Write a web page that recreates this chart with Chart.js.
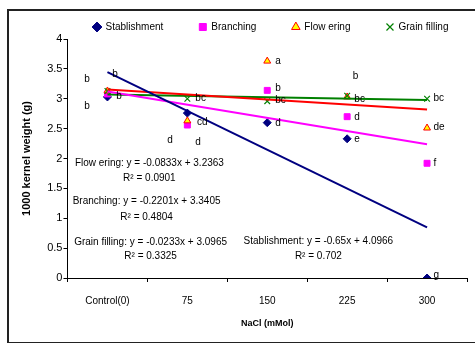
<!doctype html>
<html>

<head>
	<title>1000 kernel weight vs NaCl</title>
	<script src="https://cdn.jsdelivr.net/npm/chart.js@4/dist/chart.umd.min.js"></script>
	<style>
	body {
		margin: 0;
		background: #fff;
		overflow: hidden;
	}
	.frame {
		position: absolute;
		left: 7px;
		top: 9px;
		width: 480px;
		height: 331px;
		border: 2px solid #222;
	}
	.chart-container {
		position: absolute;
		left: 9px;
		top: 9px;
		width: 466px;
		height: 326px;
	}
	</style>
</head>

<body>
	<div class="frame"></div>
	<div class="chart-container">
		<canvas id="chart"></canvas>
	</div>
	<script>
		var categories = ['Control(0)', '75', '150', '225', '300'];
		var seriesNames = ['Stablishment', 'Branching', 'Flow ering', 'Grain filling'];

		var stablishment = [3.03, 2.76, 2.60, 2.33, 0];
		var branching = [3.08, 2.56, 3.14, 2.70, 1.92];
		var flowering = [3.13, 2.63, 3.63, 3.03, 2.51];
		var grainFilling = [3.13, 3.00, 2.96, 3.05, 3.00];

		// linear trend per stage: y = slope * x + intercept, x = 1..5
		var trendSlope = [-0.65, -0.2201, -0.0833, -0.0233];
		var trendIntercept = [4.0966, 3.3405, 3.2363, 3.0965];
		var trendR2 = ['0.702', '0.4804', '0.0901', '0.3325'];

		// where each equation is written (category position, y of equation line, y of R² line)
		var noteX = [2.64, 0.49, 0.525, 0.54];
		var noteY = [0.62, 1.29, 1.925, 0.59];
		var noteR2Y = [0.37, 1.02, 1.67, 0.37];

		// mean separation letters: [category position, y, letter]
		var letterMarks = [
			[0.06, 3.41, 'b'], [0.11, 3.04, 'b'], [-0.29, 3.33, 'b'], [-0.29, 2.88, 'b'],
			[1.10, 3.01, 'bc'], [1.12, 2.61, 'cd'], [0.75, 2.31, 'd'], [1.10, 2.28, 'd'],
			[2.10, 3.63, 'a'], [2.10, 3.18, 'b'], [2.10, 2.98, 'bc'], [2.10, 2.59, 'd'],
			[3.07, 3.38, 'b'], [3.09, 3.00, 'bc'], [3.09, 2.69, 'd'], [3.09, 2.33, 'e'],
			[4.08, 3.01, 'bc'], [4.08, 2.53, 'de'], [4.08, 1.92, 'f'], [4.08, 0.05, 'g']
		];

		var yMin = 0;
		var yMax = 4;
		var yStep = 0.5;

		var FONT = "'Liberation Sans', Arial, sans-serif";
		Chart.defaults.font.family = FONT;
		Chart.defaults.color = '#000';

		var markers = [
			{ style: 'rectRot', fill: '#000080', stroke: '#000080', line: '#000080' },
			{ style: 'rect', fill: '#ff00ff', stroke: '#ff00ff', line: '#ff00ff' },
			{ style: 'triangle', fill: '#ffff00', stroke: '#ff0000', line: '#ff0000' },
			{ style: 'crossRot', fill: '#008000', stroke: '#008000', line: '#008000' }
		];

		function toPoints(values) {
			return values.map(function(v, i) { return { x: i, y: v }; });
		}

		function pointSet(i, values, order) {
			var m = markers[i];
			return {
				label: seriesNames[i],
				data: toPoints(values),
				xAxisID: 'xv',
				showLine: false,
				order: order,
				pointStyle: m.style,
				pointRadius: m.style === 'rect' ? 4.2 : 4,
				pointBackgroundColor: m.fill,
				pointBorderColor: m.stroke,
				pointBorderWidth: m.style === 'crossRot' ? 1.2 : 1,
				backgroundColor: m.fill,
				borderColor: m.stroke
			};
		}

		function trendSet(i) {
			var first = trendSlope[i] * 1 + trendIntercept[i];
			var last = trendSlope[i] * categories.length + trendIntercept[i];
			return {
				label: 'trend ' + seriesNames[i],
				isTrend: true,
				data: [{ x: 0, y: first }, { x: categories.length - 1, y: last }],
				xAxisID: 'xv',
				order: 0,
				borderColor: markers[i].line,
				borderWidth: 2,
				pointRadius: 0,
				fill: false
			};
		}

		// moves the legend row up and right after layout, plot area stays put
		var legendOffset = {
			id: 'legendOffset',
			afterLayout: function(chart) {
				var lg = chart.legend;
				var dx = 33, dy = -23;
				lg.left += dx;
				lg.right += dx;
				lg.top += dy;
			}
		};

		// letters and trend equations written in data coordinates
		var textMarks = {
			id: 'textMarks',
			afterDatasetsDraw: function(chart) {
				var ctx = chart.ctx;
				var xs = chart.scales.xv;
				var ys = chart.scales.y;
				ctx.save();
				ctx.fillStyle = '#000';
				ctx.font = '10px ' + FONT;
				ctx.textBaseline = 'middle';
				ctx.textAlign = 'left';
				letterMarks.forEach(function(l) {
					ctx.fillText(l[2], xs.getPixelForValue(l[0]), ys.getPixelForValue(l[1]));
				});
				ctx.textAlign = 'center';
				seriesNames.forEach(function(name, i) {
					var eq = name + ': y = ' + trendSlope[i] + 'x + ' + trendIntercept[i];
					var px = xs.getPixelForValue(noteX[i]);
					ctx.fillText(eq, px, ys.getPixelForValue(noteY[i]));
					ctx.fillText('R\u00b2 = ' + trendR2[i], px, ys.getPixelForValue(noteR2Y[i]));
				});
				ctx.restore();
			}
		};

		window.onload = function() {
			var ctx = document.getElementById('chart').getContext('2d');
			new Chart(ctx, {
				type: 'line',
				data: {
					labels: categories,
					datasets: [
						pointSet(0, stablishment, 4),
						pointSet(1, branching, 3),
						pointSet(2, flowering, 2),
						pointSet(3, grainFilling, 1),
						trendSet(0),
						trendSet(1),
						trendSet(2),
						trendSet(3)
					]
				},
				options: {
					responsive: true,
					maintainAspectRatio: false,
					animation: false,
					layout: { padding: { left: 0, right: 8, top: 0, bottom: 0 } },
					plugins: {
						legend: {
							position: 'top',
							maxHeight: 30,
							labels: {
								usePointStyle: true,
								boxWidth: 7,
								boxHeight: 7,
								padding: 36,
								font: { size: 10 },
								color: '#000',
								filter: function(item, data) {
									return !data.datasets[item.datasetIndex].isTrend;
								},
								sort: function(a, b) { return a.datasetIndex - b.datasetIndex; }
							}
						},
						tooltip: { enabled: false }
					},
					scales: {
						x: {
							type: 'category',
							offset: true,
							afterFit: function(scale) { scale.height = 57; },
							grid: {
								offset: true,
								drawOnChartArea: false,
								drawTicks: true,
								tickLength: 4,
								color: '#000'
							},
							border: { color: '#000', width: 1 },
							ticks: { font: { size: 10 }, color: '#000', padding: 13, maxRotation: 0 },
							title: {
								display: true,
								text: 'NaCl (mMol)',
								font: { size: 9, weight: 'bold' },
								color: '#000',
								padding: { top: 10, bottom: 6 }
							}
						},
						xv: {
							type: 'linear',
							display: false,
							min: -0.5,
							max: categories.length - 0.5
						},
						y: {
							min: yMin,
							max: yMax,
							ticks: {
								stepSize: yStep,
								font: { size: 11 },
								color: '#000',
								padding: 1,
								callback: function(v) { return String(v); }
							},
							grid: {
								drawOnChartArea: false,
								drawTicks: true,
								tickLength: 4,
								color: '#000'
							},
							border: { color: '#000', width: 1 },
							title: {
								display: true,
								text: '1000 kernel weight (g)',
								font: { size: 11, weight: 'bold' },
								color: '#000',
								padding: { top: 11, bottom: 13 }
							}
						}
					}
				},
				plugins: [legendOffset, textMarks]
			});
		};
	</script>
</body>

</html>
